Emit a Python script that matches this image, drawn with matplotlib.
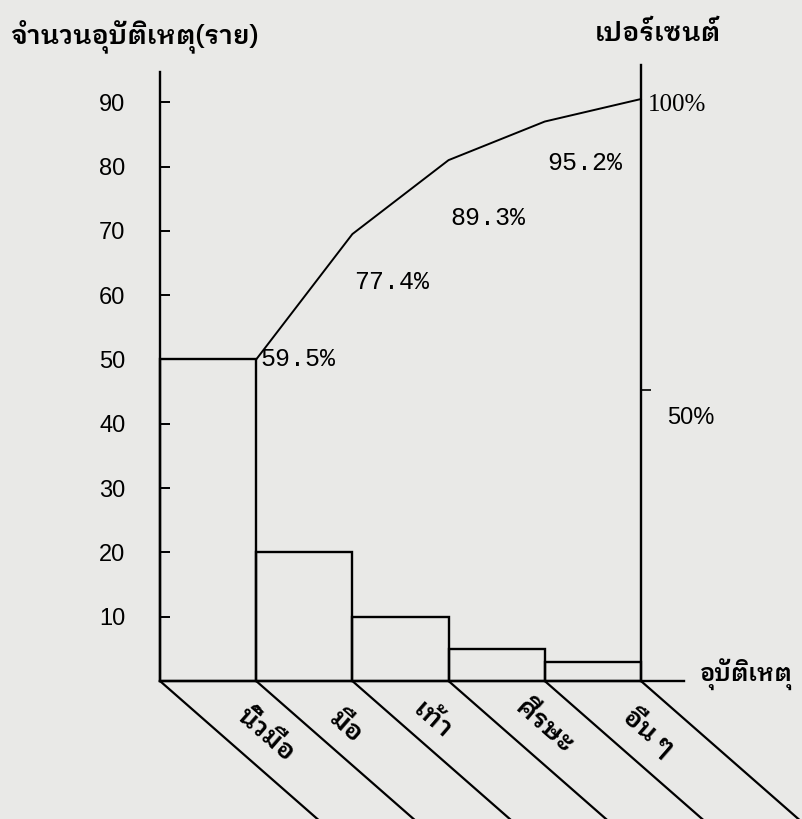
import matplotlib
matplotlib.use("Agg")
import matplotlib.pyplot as plt
from matplotlib import font_manager
from matplotlib.ft2font import FT2Font
import numpy as np

# data
categories = ["นิ้วมือ", "มือ", "เท้า", "ศีรษะ", "อื่น ๆ"]
counts = [50, 20, 10, 5, 3]                      # bar heights (ราย)
cum_line = [50, 69.5, 81, 87, 90.5]              # cumulative line as drawn, in count units
cum_pct_labels = ["59.5%", "77.4%", "89.3%", "95.2%", "100%"]
left_ticks = [10, 20, 30, 40, 50, 60, 70, 80, 90]
pct_top = 90.5                                   # count level that the 100% mark sits at


def find_thai_font():
    fonts = sorted(font_manager.fontManager.ttflist,
                   key=lambda f: (0 if "Thai" in f.name else 1, 0 if "Looped" in f.name else 1))
    for f in fonts:
        try:
            cmap = FT2Font(f.fname).get_charmap()
        except Exception:
            continue
        if 0x0E08 in cmap and 0x0E38 in cmap and 0x0E49 in cmap:
            return f.name
    return "DejaVu Sans"


thai = [find_thai_font(), "DejaVu Sans"]
bg = "#e9e9e7"

fig = plt.figure(figsize=(8.02, 8.19), dpi=100, facecolor=bg)
ax = fig.add_axes([0, 0, 1, 1])
ax.set_facecolor(bg)
ax.set_xlim(-1.663, 6.674)
ax.set_ylim(-21.46, 105.9)

x = np.arange(len(categories))
edges = np.arange(len(categories) + 1)

ax.bar(x, counts, width=1, align="edge", fill=False, edgecolor="black", linewidth=1.7)

# cumulative line from the top right corner of each bar
ax.plot(edges[1:], cum_line, color="black", linewidth=1.4)

# slanted base lines (pseudo 3-D floor)
for e in edges:
    ax.plot([e, e + 1.8], [0, -23.6], color="black", linewidth=1.6)

# axes
ax.spines["top"].set_visible(False)
ax.spines["right"].set_visible(False)
ax.spines["left"].set_position(("data", 0))
ax.spines["left"].set_bounds(0, 94.7)
ax.spines["bottom"].set_position(("data", 0))
ax.spines["bottom"].set_bounds(0, 5.45)
for s in ["left", "bottom"]:
    ax.spines[s].set_linewidth(1.7)

ax.set_xticks([])
ax.set_yticks(left_ticks)
ax.set_yticklabels([str(t) for t in left_ticks], fontsize=17, family="Liberation Sans")
ax.tick_params(axis="y", direction="in", length=7, width=1.4, pad=25)

ax.set_ylabel("จำนวนอุบัติเหตุ(ราย)", rotation=0, fontsize=19, family=thai,
              fontweight="semibold", ha="left", va="center")
ax.yaxis.set_label_coords(-1.56, 100.2, transform=ax.transData)
ax.set_xlabel("อุบัติเหตุ", fontsize=17, family=thai, fontweight="semibold",
              ha="left", va="center")
ax.xaxis.set_label_coords(5.61, 0.9, transform=ax.transData)

# right percentage axis
ax2 = ax.twinx()
ax2.set_ylim(np.array(ax.get_ylim()) * 100 / pct_top)
for s in ["left", "top", "bottom"]:
    ax2.spines[s].set_visible(False)
ax2.spines["right"].set_position(("data", 5))
ax2.spines["right"].set_bounds(0, 105.8)
ax2.spines["right"].set_linewidth(1.7)
ax2.set_yticks([50])
ax2.set_yticklabels([""])
ax2.tick_params(axis="y", direction="out", length=7, width=1.2)
ax2.text(5.07, 99, "100%", fontsize=18, family="Liberation Serif", ha="left", va="center")
ax2.text(5.27, 45.2, "50%", fontsize=17, family="Liberation Sans", ha="left", va="center")
ax2.set_ylabel("เปอร์เซนต์", rotation=0, fontsize=19, family=thai, fontweight="semibold",
               ha="left", va="center")
ax2.yaxis.set_label_coords(4.52, 100.7, transform=ax.transData)

# cumulative percent labels
pct_pos = [(1.04, 50, "left"), (2.41, 62.0, "center"), (3.41, 72.0, "center"),
           (4.42, 80.6, "center")]
for (px, py, ha), lab in zip(pct_pos, cum_pct_labels[:4]):
    ax.text(px, py, lab, fontsize=18, family="Liberation Mono", ha=ha, va="center")

# category labels along the slanted lines
cat_pos = [(1.10, -8.3), (1.93, -7.2), (2.83, -6.1), (3.99, -7.1), (5.09, -7.8)]
for (cx, cy), cat in zip(cat_pos, categories):
    ax.text(cx, cy, cat, fontsize=19, family=thai, fontweight="semibold", rotation=-41,
            rotation_mode="anchor", ha="center", va="center")

fig.savefig("out.png", dpi=100, facecolor=bg)
